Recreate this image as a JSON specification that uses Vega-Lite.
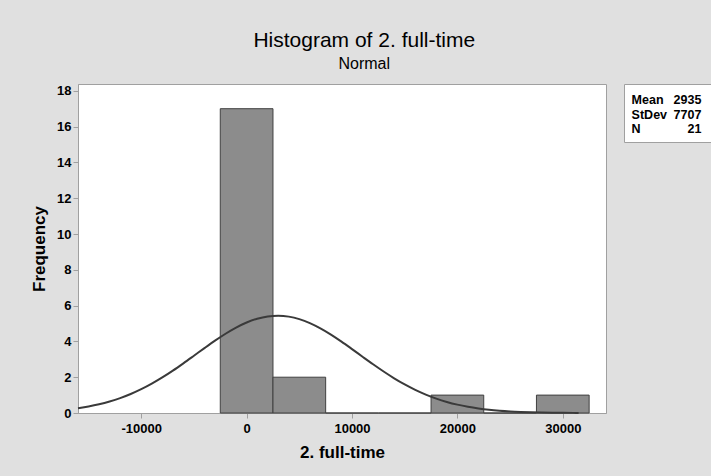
{
  "$schema": "https://vega.github.io/schema/vega-lite/v6.json",
  "background": "#e0e0e0",
  "padding": {"left": 30, "top": 29, "right": 2, "bottom": 15},
  "title": {
    "text": "Histogram of 2. full-time",
    "subtitle": "Normal",
    "font": "Liberation Sans",
    "fontSize": 21,
    "fontWeight": "normal",
    "color": "#000000",
    "subtitleFont": "Liberation Sans",
    "subtitleFontSize": 16,
    "subtitleFontWeight": "normal",
    "subtitleColor": "#000000",
    "subtitlePadding": 5,
    "offset": 12,
    "anchor": "middle",
    "dx": -7
  },
  "datasets": {
    "bins": [
      {"lo": -2500, "hi": 2500, "count": 17},
      {"lo": 2500, "hi": 7500, "count": 2},
      {"lo": 7500, "hi": 12500, "count": 0},
      {"lo": 12500, "hi": 17500, "count": 0},
      {"lo": 17500, "hi": 22500, "count": 1},
      {"lo": 22500, "hi": 27500, "count": 0},
      {"lo": 27500, "hi": 32500, "count": 1}
    ],
    "curve": [
      {"x": -16000, "f": 0.266}, {"x": -15000, "f": 0.363}, {"x": -14000, "f": 0.486},
      {"x": -13000, "f": 0.641}, {"x": -12000, "f": 0.831}, {"x": -11000, "f": 1.060},
      {"x": -10000, "f": 1.329}, {"x": -9000, "f": 1.639}, {"x": -8000, "f": 1.986},
      {"x": -7000, "f": 2.368}, {"x": -6000, "f": 2.776}, {"x": -5000, "f": 3.199},
      {"x": -4000, "f": 3.626}, {"x": -3000, "f": 4.041}, {"x": -2000, "f": 4.428},
      {"x": -1000, "f": 4.771}, {"x": 0, "f": 5.055}, {"x": 1000, "f": 5.267},
      {"x": 2000, "f": 5.395}, {"x": 3000, "f": 5.435}, {"x": 4000, "f": 5.384},
      {"x": 5000, "f": 5.244}, {"x": 6000, "f": 5.022}, {"x": 7000, "f": 4.729},
      {"x": 8000, "f": 4.380}, {"x": 9000, "f": 3.988}, {"x": 10000, "f": 3.570},
      {"x": 11000, "f": 3.143}, {"x": 12000, "f": 2.722}, {"x": 13000, "f": 2.317},
      {"x": 14000, "f": 1.939}, {"x": 15000, "f": 1.596}, {"x": 16000, "f": 1.292},
      {"x": 17000, "f": 1.028}, {"x": 18000, "f": 0.804}, {"x": 19000, "f": 0.619},
      {"x": 20000, "f": 0.468}, {"x": 21000, "f": 0.348}, {"x": 22000, "f": 0.255},
      {"x": 23000, "f": 0.183}, {"x": 24000, "f": 0.130}, {"x": 25000, "f": 0.090},
      {"x": 26000, "f": 0.062}, {"x": 27000, "f": 0.042}, {"x": 28000, "f": 0.027},
      {"x": 29000, "f": 0.018}, {"x": 30000, "f": 0.011}, {"x": 31000, "f": 0.007},
      {"x": 31500, "f": 0.006}
    ],
    "stats": [
      {"name": "Mean", "val": "2935"},
      {"name": "StDev", "val": "7707"},
      {"name": "N", "val": "21"}
    ]
  },
  "spacing": 16,
  "hconcat": [
    {
      "width": 528,
      "height": 329,
      "view": {"fill": "#ffffff", "stroke": "#a0a0a0"},
      "layer": [
        {
          "data": {"name": "bins"},
          "mark": {"type": "rect", "fill": "#8c8c8c", "stroke": "#404040", "strokeWidth": 1},
          "encoding": {
            "x": {
              "field": "lo", "type": "quantitative", "title": "2. full-time",
              "scale": {"domain": [-16000, 34100], "nice": false, "zero": false},
              "axis": {"values": [-10000, 0, 10000, 20000, 30000], "format": "d", "labelExpr": "replace(datum.label, '\u2212', '-')", "grid": false, "tickSize": 5, "labelPadding": 4, "titlePadding": 9, "labelFlush": false, "labelOverlap": false, "labelBound": false}
            },
            "x2": {"field": "hi"},
            "y": {
              "field": "count", "type": "quantitative", "title": "Frequency",
              "scale": {"domain": [0, 18.38], "nice": false},
              "axis": {"values": [0, 2, 4, 6, 8, 10, 12, 14, 16, 18], "grid": false, "tickSize": 5, "labelPadding": 2, "titlePadding": 8, "labelOverlap": false, "labelFlush": false}
            },
            "y2": {"datum": 0}
          }
        },
        {
          "data": {"name": "curve"},
          "mark": {"type": "line", "color": "#3a3a3a", "strokeWidth": 2, "interpolate": "monotone"},
          "encoding": {
            "x": {
              "field": "x", "type": "quantitative", "title": "2. full-time",
              "axis": {"values": [-10000, 0, 10000, 20000, 30000], "format": "d", "labelExpr": "replace(datum.label, '\u2212', '-')", "grid": false, "tickSize": 5, "labelPadding": 4, "titlePadding": 9, "labelFlush": false, "labelOverlap": false, "labelBound": false}
            },
            "y": {
              "field": "f", "type": "quantitative", "title": "Frequency",
              "axis": {"values": [0, 2, 4, 6, 8, 10, 12, 14, 16, 18], "grid": false, "tickSize": 5, "labelPadding": 2, "titlePadding": 8, "labelOverlap": false, "labelFlush": false}
            }
          }
        }
      ]
    },
    {
      "width": 88,
      "height": 58,
      "view": {"fill": "#ffffff", "stroke": "#a0a0a0"},
      "data": {"name": "stats"},
      "transform": [{"fold": ["name", "val"], "as": ["col", "txt"]}],
      "encoding": {
        "x": {"field": "col", "type": "nominal", "scale": {"type": "point", "domain": ["name", "val"], "padding": 0}, "axis": null},
        "y": {"field": "name", "type": "nominal", "scale": {"type": "point", "domain": ["Mean", "StDev", "N"], "padding": 1.148}, "axis": null},
        "text": {"field": "txt"}
      },
      "layer": [
        {
          "transform": [{"filter": "datum.col === 'name'"}],
          "mark": {"type": "text", "align": "left", "baseline": "middle", "dx": 7.6, "dy": 1.5, "font": "Liberation Sans", "fontSize": 12.5, "fontWeight": "bold", "color": "#000000"}
        },
        {
          "transform": [{"filter": "datum.col === 'val'"}],
          "mark": {"type": "text", "align": "right", "baseline": "middle", "dx": -10.6, "dy": 1.5, "font": "Liberation Sans", "fontSize": 12.5, "fontWeight": "bold", "color": "#000000"}
        }
      ]
    }
  ],
  "config": {
    "axis": {
      "domainColor": "#a0a0a0",
      "tickColor": "#a0a0a0",
      "labelFont": "Liberation Sans",
      "labelFontSize": 13,
      "labelFontWeight": "bold",
      "labelColor": "#000000",
      "titleFont": "Liberation Sans",
      "titleFontSize": 17,
      "titleFontWeight": "bold",
      "titleColor": "#000000"
    }
  }
}
